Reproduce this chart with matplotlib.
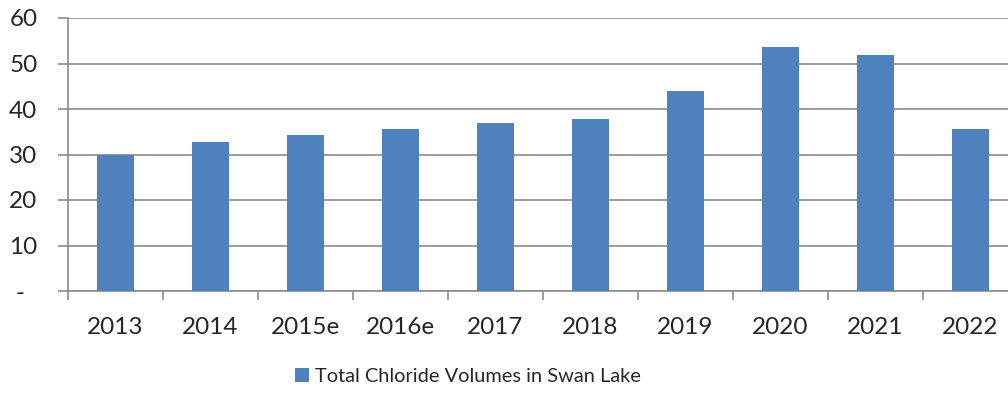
import numpy as np
import matplotlib
matplotlib.use('Agg')
import matplotlib.pyplot as plt
from matplotlib.patches import Patch

years = ['2013', '2014', '2015e', '2016e', '2017', '2018', '2019', '2020', '2021', '2022']
volumes = [30.0, 32.7, 34.2, 35.6, 37.0, 37.7, 43.9, 53.6, 51.8, 35.5]
y_ticks = [0, 10, 20, 30, 40, 50, 60]
# accounting style zero, padded like excel does
y_labels = ['-  ', '10', '20', '30', '40', '50', '60']
series_name = 'Total Chloride Volumes in Swan Lake'

BAR_COLOR = '#4f81bd'
GRID_COLOR = '#8c8c8c'
TEXT_COLOR = '#262626'

plt.rcParams['font.family'] = ['Lato', 'DejaVu Sans']


def main():
    fig = plt.figure(figsize=(10.08, 3.96), dpi=100)
    # plot area runs past the right edge, as in the cropped original
    ax = fig.add_axes([68 / 1008, 105 / 396, 950 / 1008, 273 / 396])

    x = np.arange(len(years)) + 0.5
    ax.bar(x, volumes, width=0.39, color=BAR_COLOR, zorder=3)

    ax.set_xlim(0, len(years))
    ax.set_ylim(0, 60)
    ax.set_yticks(y_ticks)
    ax.set_yticklabels(y_labels)
    ax.yaxis.grid(True, color=GRID_COLOR, linewidth=1.2, zorder=0)

    # labels centred on categories, tick marks on the category boundaries
    ax.set_xticks(x)
    ax.set_xticklabels(years)
    ax.set_xticks(np.arange(len(years) + 1), minor=True)
    ax.tick_params(axis='x', which='major', length=0, pad=19, labelsize=17.5, colors=TEXT_COLOR)
    ax.tick_params(axis='x', which='minor', length=6.5, width=1.2, color=GRID_COLOR)
    ax.tick_params(axis='y', length=7, width=1.2, color=GRID_COLOR, pad=15,
                   labelsize=17.5, labelcolor=TEXT_COLOR)

    for side in ('top', 'right'):
        ax.spines[side].set_visible(False)
    for side in ('left', 'bottom'):
        ax.spines[side].set_color(GRID_COLOR)
        ax.spines[side].set_linewidth(1.2)

    handle = Patch(facecolor=BAR_COLOR, edgecolor='none')
    fig.legend([handle], [series_name], loc='center', bbox_to_anchor=(468 / 1008, 1 - 376 / 396),
               frameon=False, fontsize=14.4, handlelength=0.7, handleheight=0.7,
               handletextpad=0.3, labelcolor=TEXT_COLOR)

    fig.savefig('out.png', dpi=100)


if __name__ == '__main__':
    main()
